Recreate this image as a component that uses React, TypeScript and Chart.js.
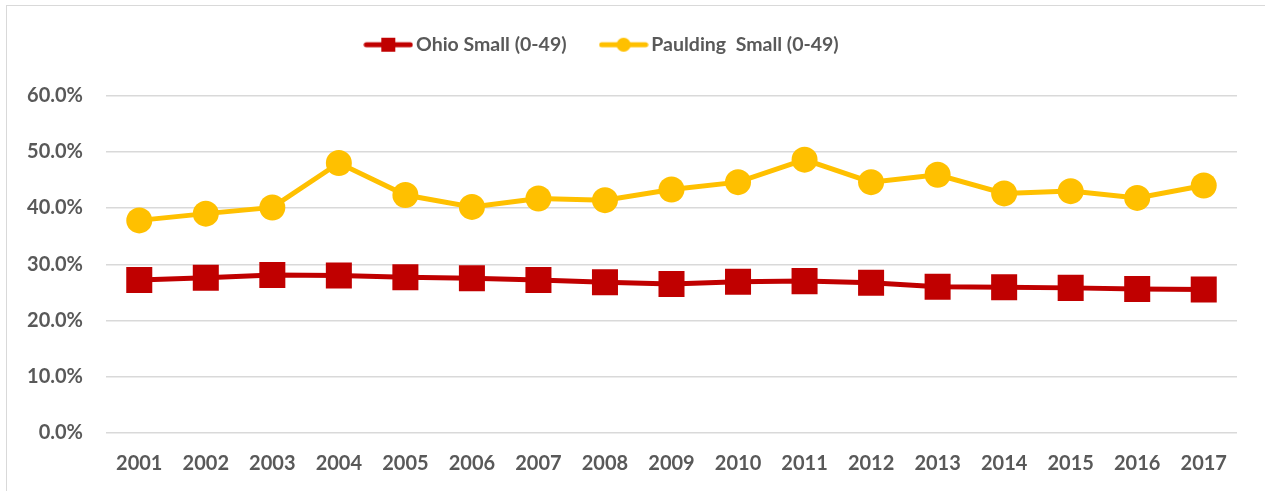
import React, { useEffect, useRef } from "react";
import { Chart, registerables } from "chart.js";

Chart.register(...registerables);

const years = ["2001","2002","2003","2004","2005","2006","2007","2008","2009","2010","2011","2012","2013","2014","2015","2016","2017"];
const ohioSmall = [27.2, 27.6, 28.1, 28.0, 27.7, 27.5, 27.2, 26.8, 26.5, 26.9, 27.0, 26.7, 26.0, 25.9, 25.8, 25.6, 25.5];
const pauldingSmall = [37.8, 39.0, 40.1, 48.0, 42.3, 40.2, 41.7, 41.4, 43.3, 44.6, 48.6, 44.6, 45.9, 42.6, 43.0, 41.8, 44.0];
const seriesLabels = ["Ohio Small (0-49)", "Paulding  Small (0-49)"];

const RED = "#C00000";
const YELLOW = "#FFC000";
const TEXT = "#595959";
const FONT = "Lato, 'Open Sans', sans-serif";

function legendIcon(color: string, shape: "rect" | "circle"): HTMLCanvasElement {
  const c = document.createElement("canvas");
  c.width = 50;
  c.height = 18;
  const ctx = c.getContext("2d")!;
  ctx.strokeStyle = color;
  ctx.lineWidth = 5;
  ctx.lineCap = "round";
  ctx.beginPath();
  ctx.moveTo(3, 9);
  ctx.lineTo(47, 9);
  ctx.stroke();
  ctx.fillStyle = color;
  if (shape === "rect") {
    ctx.fillRect(18, 2, 14, 14);
  } else {
    ctx.beginPath();
    ctx.arc(25, 9, 7, 0, Math.PI * 2);
    ctx.fill();
  }
  return c;
}

const legendTweak = {
  id: "legendTweak",
  beforeInit(chart: any) {
    const lg = chart.legend;
    if (lg && !lg.__patched) {
      const origFit = lg.fit.bind(lg);
      lg.fit = function () {
        origFit();
        this.height += 25;
      };
      lg.__patched = true;
    }
  },
  afterLayout(chart: any) {
    const lg = chart.legend;
    if (lg) {
      lg.left -= 14;
      lg.right -= 14;
      lg.top -= 6;
      lg.bottom -= 6;
      if (typeof lg.adjustHitBoxes === "function") lg.adjustHitBoxes();
    }
  },
};

export default function App() {
  const ref = useRef<HTMLCanvasElement | null>(null);
  useEffect(() => {
    if (!ref.current) return;
    const icons = [legendIcon(RED, "rect"), legendIcon(YELLOW, "circle")];
    const chart = new Chart(ref.current, {
      type: "line",
      data: {
        labels: years,
        datasets: [
          {
            label: seriesLabels[0],
            data: ohioSmall,
            borderColor: RED,
            backgroundColor: RED,
            borderWidth: 5,
            pointStyle: "rect",
            pointRadius: 18.4,
            pointBorderWidth: 0,
            pointBackgroundColor: RED,
            tension: 0,
          },
          {
            label: seriesLabels[1],
            data: pauldingSmall,
            borderColor: YELLOW,
            backgroundColor: YELLOW,
            borderWidth: 5,
            pointStyle: "circle",
            pointRadius: 13,
            pointBorderWidth: 0,
            pointBackgroundColor: YELLOW,
            tension: 0,
          },
        ],
      },
      plugins: [legendTweak],
      options: {
        animation: false,
        responsive: false,
        maintainAspectRatio: false,
        layout: { padding: { left: 0, right: 28, top: 2, bottom: 0 } },
        plugins: {
          tooltip: { enabled: false },
          legend: {
            display: true,
            position: "top",
            labels: {
              usePointStyle: true,
              pointStyleWidth: 36,
              padding: 39,
              color: TEXT,
              font: { family: FONT, size: 19.5, weight: "bold" },
              generateLabels: (ch: any) =>
                ch.data.datasets.map((ds: any, i: number) => ({
                  text: ds.label,
                  fillStyle: ds.borderColor,
                  strokeStyle: ds.borderColor,
                  lineWidth: 0,
                  pointStyle: icons[i],
                  hidden: false,
                  datasetIndex: i,
                  fontColor: TEXT,
                })),
            },
          },
        },
        scales: {
          x: {
            offset: true,
            grid: { display: false, drawTicks: false },
            border: { display: false },
            ticks: {
              color: TEXT,
              padding: 19,
              font: { family: FONT, size: 20, weight: "bold" },
              maxRotation: 0,
              autoSkip: false,
            },
            afterFit: (s: any) => {
              s.height = 58;
            },
          },
          y: {
            min: 0,
            max: 60,
            grid: { color: "#d9d9d9", lineWidth: 1.5, drawTicks: false },
            border: { display: false },
            ticks: {
              stepSize: 10,
              color: TEXT,
              padding: 23,
              font: { family: FONT, size: 20, weight: "bold" },
              callback: (v: any) => Number(v).toFixed(1) + "%",
            },
            afterFit: (s: any) => {
              s.width = 106;
            },
          },
        },
      },
    });
    return () => chart.destroy();
  }, []);

  return (
    <div style={{ position: "fixed", left: 0, top: 0, width: 1265, height: 491, overflow: "hidden", background: "#fff" }}>
      <div
        style={{
          position: "absolute",
          left: 6,
          top: 5,
          width: 1280,
          height: 520,
          border: "1px solid #d9d9d9",
          boxSizing: "border-box",
        }}
      />
      <canvas ref={ref} width={1265} height={491} style={{ position: "absolute", left: 0, top: 0 }} />
    </div>
  );
}
